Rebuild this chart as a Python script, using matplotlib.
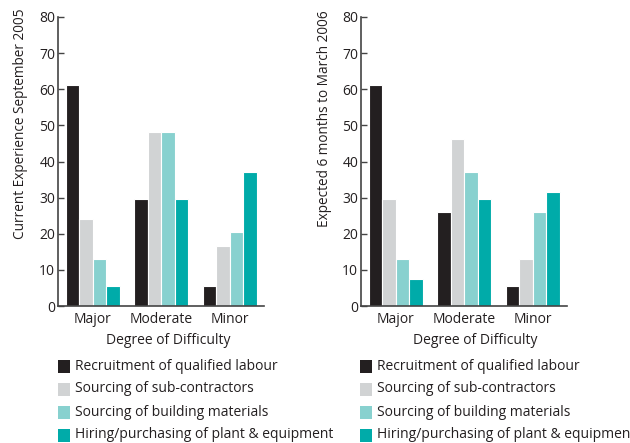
import matplotlib.pyplot as plt
from matplotlib.patches import Rectangle

plt.rcParams["font.family"] = ["Open Sans", "DejaVu Sans"]

CATEGORIES = ["Major", "Moderate", "Minor"]
SERIES = [
    "Recruitment of qualified labour",
    "Sourcing of sub-contractors",
    "Sourcing of building materials",
    "Hiring/purchasing of plant & equipment",
]
COLORS = ["#231f20", "#d1d3d4", "#88d1cf", "#00aba9"]

# values per series, across Major / Moderate / Minor
CURRENT = [
    [61.1, 29.6, 5.6],
    [24.1, 48.1, 16.7],
    [13.0, 48.1, 20.4],
    [5.6, 29.6, 37.0],
]
EXPECTED = [
    [61.1, 25.9, 5.6],
    [29.6, 46.3, 13.0],
    [13.0, 37.0, 25.9],
    [7.4, 29.6, 31.5],
]

W, H = 630, 443
fig = plt.figure(figsize=(W / 100, H / 100), dpi=100)

AXIS_COLOR = "#444444"
TEXT_COLOR = "#231f20"


def draw_panel(ax, data, ylabel):
    bw = 0.198
    for i, vals in enumerate(data):
        xs = [g + (i - 1.5) * bw for g in range(len(CATEGORIES))]
        ax.bar(xs, vals, width=bw, color=COLORS[i], edgecolor="white",
               linewidth=0.8)
    ax.set_xlim(-0.51, 2.5)
    ax.set_ylim(0, 80)
    ax.set_yticks(range(0, 81, 10))
    ax.set_xticks(range(len(CATEGORIES)))
    ax.set_xticklabels(CATEGORIES)
    ax.tick_params(axis="y", direction="in", length=4, width=1,
                   color=AXIS_COLOR, labelsize=10, pad=2,
                   labelcolor=TEXT_COLOR)
    ax.tick_params(axis="x", length=0, labelsize=10, pad=4,
                   labelcolor=TEXT_COLOR)
    for s in ["top", "right"]:
        ax.spines[s].set_visible(False)
    for s in ["left", "bottom"]:
        ax.spines[s].set_color(AXIS_COLOR)
        ax.spines[s].set_linewidth(1.2)
    ax.set_xlabel("Degree of Difficulty", fontsize=10, color=TEXT_COLOR,
                  labelpad=4)
    ax.set_ylabel(ylabel, fontsize=9.8, color=TEXT_COLOR)


ax1 = fig.add_axes([58 / W, 1 - 306 / H, 206 / W, 289 / H])
draw_panel(ax1, CURRENT, "Current Experience September 2005")
ax1.yaxis.set_label_coords(-0.146, 0.63)
ax1.xaxis.set_label_coords(0.536, -0.095)

ax2 = fig.add_axes([361 / W, 1 - 306 / H, 206 / W, 289 / H])
draw_panel(ax2, EXPECTED, "Expected 6 months to March 2006")
ax2.yaxis.set_label_coords(-0.141, 0.649)
ax2.xaxis.set_label_coords(0.556, -0.095)

# legends drawn as squares + text under each panel
rows_y = [366, 389, 412, 435]
for x0 in [58, 360]:
    for i, name in enumerate(SERIES):
        yc = rows_y[i]
        fig.patches.append(Rectangle((x0 / W, 1 - (yc + 6.5) / H),
                                     12 / W, 13 / H,
                                     transform=fig.transFigure,
                                     facecolor=COLORS[i], edgecolor="none"))
        fig.text((x0 + 17) / W, 1 - yc / H, name, fontsize=10,
                 color=TEXT_COLOR, va="center", ha="left")

fig.savefig("out.png", dpi=100)
